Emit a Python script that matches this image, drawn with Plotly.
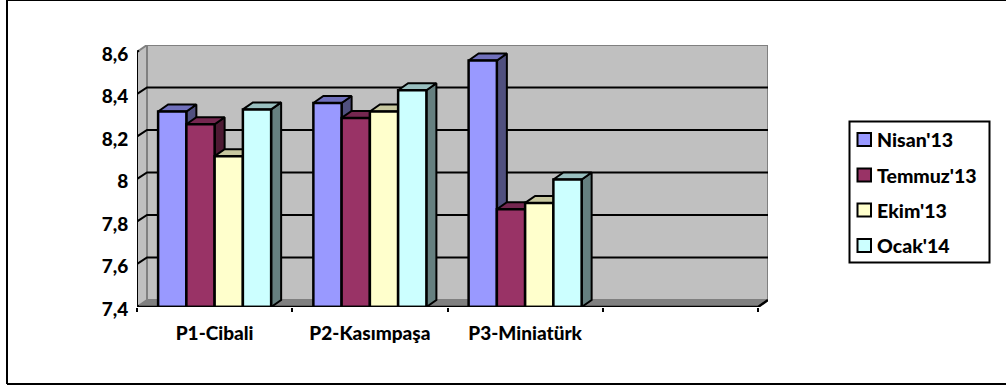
import plotly.graph_objects as go

# Chart data
categories = ["P1-Cibali", "P2-Kasımpaşa", "P3-Miniatürk", ""]
series_names = ["Nisan'13", "Temmuz'13", "Ekim'13", "Ocak'14"]
nisan = [8.32, 8.36, 8.56]
temmuz = [8.26, 8.29, 7.86]
ekim = [8.11, 8.32, 7.89]
ocak = [8.33, 8.42, 8.00]
y_ticks = [7.4, 7.6, 7.8, 8.0, 8.2, 8.4, 8.6]
y_labels = ["7,4", "7,6", "7,8", "8", "8,2", "8,4", "8,6"]

front_colors = ["#9999FF", "#993366", "#FFFFCC", "#CCFFFF"]
top_colors = ["#7070BC", "#752750", "#C8C8A0", "#99BFBF"]
side_colors = ["#50507F", "#4D1A33", "#808066", "#668080"]

W, H = 1006, 387
FONT = "Lato"
HEAVY = 900

# Pixel frame of the front plane and the oblique depth of the 3-D effect
left, right, bottom, top = 137.0, 758.0, 307.0, 52.0
depth_x_px, depth_y_px = 10.0, 7.0

x_min, x_max = -0.5, 3.5
y_min, y_max = 7.4, 8.6
px_x = (right - left) / (x_max - x_min)
px_y = (bottom - top) / (y_max - y_min)
dx = depth_x_px / px_x
dy = depth_y_px / px_y
range_x = [x_min, x_max + dx]
range_y = [y_min, y_max + dy]
domain_x = [left / W, (right + depth_x_px) / W]
domain_y = [1 - bottom / H, 1 - (top - depth_y_px) / H]

bar_gap = 0.272
bar_w = (1 - bar_gap) / 4

all_values = [nisan, temmuz, ekim, ocak]
fig = go.Figure()


def poly(xs, ys, fill, line="#000000", width=2):
    fig.add_trace(go.Scatter(
        x=xs + xs[:1], y=ys + ys[:1], mode="lines", fill="toself", fillcolor=fill,
        line=dict(color=line, width=width), showlegend=False,
        hoverinfo="skip", cliponaxis=False,
    ))


# Walls and floor
poly([x_min, x_min + dx, x_min + dx, x_min],
     [y_min, y_min + dy, y_max + dy, y_max], "#C0C0C0", "#808080", 2)
poly([x_min + dx, x_max + dx, x_max + dx, x_min + dx],
     [y_min + dy, y_min + dy, y_max + dy, y_max + dy], "#C0C0C0", "#808080", 2)
poly([x_min, x_max, x_max + dx, x_min + dx],
     [y_min, y_min, y_min + dy, y_min + dy], "#808080", "#808080", 1)

# Gridlines running over the side wall and back wall, with slanted tick stubs
for v in y_ticks:
    stub_x = x_min - 0.45 * dx
    stub_y = v - 0.35 * dy
    if y_min < v < y_max:
        xs = [stub_x, x_min + dx, x_max + dx]
        ys = [stub_y, v + dy, v + dy]
    else:
        xs = [stub_x, x_min + 0.2 * dx]
        ys = [stub_y, v + 0.2 * dy]
    fig.add_trace(go.Scatter(x=xs, y=ys, mode="lines",
                             line=dict(color="#000000", width=2),
                             showlegend=False, hoverinfo="skip", cliponaxis=False))

# Side and top faces, left to right so nearer columns overlap properly
for c in range(3):
    for s, vals in enumerate(all_values):
        x0 = c - (1 - bar_gap) / 2 + s * bar_w
        x1 = x0 + bar_w
        v = vals[c]
        poly([x1, x1 + dx, x1 + dx, x1], [y_min, y_min + dy, v + dy, v], side_colors[s])
        poly([x0, x1, x1 + dx, x0 + dx], [v, v, v + dy, v + dy], top_colors[s])

# Front faces on an overlaid subplot, so they sit above every side face
for s, vals in enumerate(all_values):
    fig.add_trace(go.Bar(
        x=list(range(3)), y=[v - y_min for v in vals], base=y_min,
        name=series_names[s], marker=dict(color=front_colors[s],
                                          line=dict(color="#000000", width=2.5)),
        xaxis="x2", yaxis="y2", hoverinfo="skip",
    ))

# Front axis lines
fig.add_trace(go.Scatter(x=[x_min, x_min], y=[y_min, y_max], mode="lines",
                         line=dict(color="#000000", width=2), showlegend=False,
                         hoverinfo="skip", cliponaxis=False, xaxis="x2", yaxis="y2"))
fig.add_trace(go.Scatter(x=[x_min - 0.45 * dx, x_max, x_max + dx], y=[y_min, y_min, y_min + dy],
                         mode="lines", line=dict(color="#000000", width=2.5), showlegend=False,
                         hoverinfo="skip", cliponaxis=False, xaxis="x2", yaxis="y2"))

# Outer frame and key box
black = dict(color="#000000", width=2)
shapes = [
    dict(type="line", xref="paper", yref="paper", x0=7 / W, x1=7 / W, y0=1 - 384 / H, y1=1,
         line=black, layer="below"),
    dict(type="line", xref="paper", yref="paper", x0=7 / W, x1=1, y0=1 - 0.5 / H, y1=1 - 0.5 / H,
         line=dict(color="#000000", width=1), layer="below"),
    dict(type="line", xref="paper", yref="paper", x0=7 / W, x1=1, y0=1 - 384 / H, y1=1 - 384 / H,
         line=black, layer="below"),
    dict(type="rect", xref="paper", yref="paper", x0=849.5 / W, x1=989.5 / W,
         y0=1 - 262.5 / H, y1=1 - 121.5 / H, line=black, fillcolor="#FFFFFF", layer="below"),
]
annotations = []
key_rows = [139.5, 175, 210, 245.5]
for name, colour, row in zip(series_names, front_colors, key_rows):
    shapes.append(dict(type="rect", xref="paper", yref="paper",
                       x0=857.5 / W, x1=871 / W, y0=1 - (row + 6.5) / H, y1=1 - (row - 6.5) / H,
                       line=black, fillcolor=colour, layer="below"))
    annotations.append(dict(text=name, xref="paper", yref="paper",
                            x=875 / W, y=1 - row / H, xanchor="left", yanchor="middle",
                            showarrow=False,
                            font=dict(family=FONT, size=19.5, color="#000000", weight=HEAVY)))

fig.update_layout(
    width=W, height=H,
    margin=dict(l=0, r=0, t=0, b=0),
    paper_bgcolor="#FFFFFF", plot_bgcolor="rgba(0,0,0,0)",
    barmode="group", bargap=bar_gap, bargroupgap=0,
    showlegend=False,
    font=dict(family=FONT, color="#000000"),
    xaxis=dict(
        domain=domain_x, range=range_x, showgrid=False, zeroline=False, automargin=False,
        tickmode="array", tickvals=list(range(3)), ticktext=categories[:3],
        ticks="outside", ticklen=9, tickcolor="rgba(0,0,0,0)",
        tickfont=dict(family=FONT, size=19, color="#000000", weight=HEAVY),
        minor=dict(tickmode="array", tickvals=[x_min + i for i in range(5)],
                   ticks="outside", ticklen=4, tickwidth=2, tickcolor="#000000", showgrid=False),
    ),
    yaxis=dict(
        domain=domain_y, range=range_y, showgrid=False, zeroline=False, automargin=False,
        tickmode="array", tickvals=y_ticks, ticktext=y_labels,
        ticks="outside", ticklen=4, tickcolor="rgba(0,0,0,0)", ticklabelshift=2,
        tickfont=dict(family=FONT, size=19, color="#000000", weight=HEAVY),
    ),
    xaxis2=dict(domain=domain_x, range=range_x, overlaying="x", visible=False, automargin=False),
    yaxis2=dict(domain=domain_y, range=range_y, overlaying="y", visible=False, automargin=False),
    shapes=shapes,
    annotations=annotations,
)

fig.write_html("out.html", config={"displayModeBar": False})
